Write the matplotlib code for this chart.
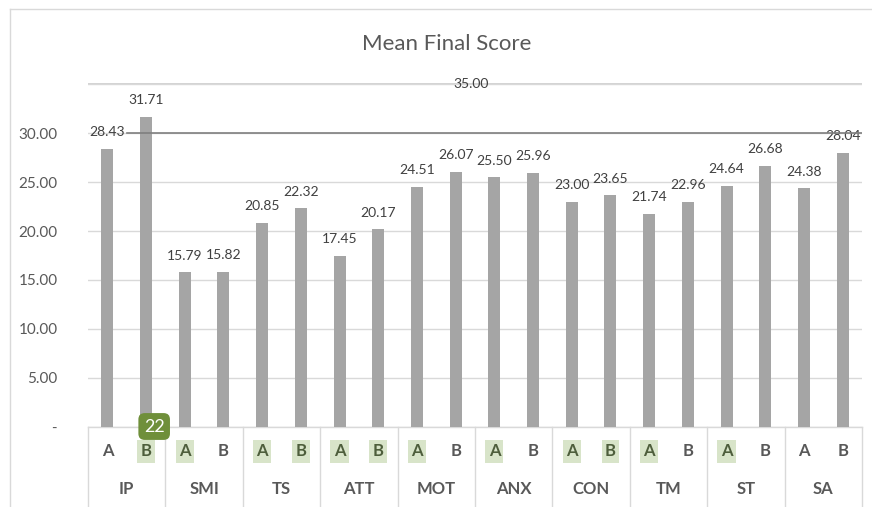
import matplotlib.pyplot as plt
from matplotlib.lines import Line2D
import matplotlib.transforms as mtransforms

#---- data ----#
groups = ['IP', 'SMI', 'TS', 'ATT', 'MOT', 'ANX', 'CON', 'TM', 'ST', 'SA']
scores_a = [28.43, 15.79, 20.85, 17.45, 24.51, 25.50, 23.00, 21.74, 24.64, 24.38]
scores_b = [31.71, 15.82, 22.32, 20.17, 26.07, 25.96, 23.65, 22.96, 26.68, 28.04]
# which A/B labels carry the green highlight
mark_a = [False, True, True, True, True, True, True, True, True, False]
mark_b = [True, False, True, True, False, False, True, False, False, False]
yticks = [0, 5, 10, 15, 20, 25, 30, 35]
ytick_labels = [' -', '5.00', '10.00', '15.00', '20.00', '25.00', '30.00', '']

#---- style ----#
plt.rcParams['font.family'] = ['Lato', 'DejaVu Sans']
bar_col = '#A5A5A5'
grid_col = '#D9D9D9'
txt_col = '#595959'
lab_col = '#404040'
hl_col = '#D8E4C9'
hl_txt = '#4E5E3C'

ytop = 35.4
px_per_unit = 342 / 35.0

fig = plt.figure(figsize=(8.72, 5.07), dpi=100)
ax = fig.add_axes([88/872, 80.5/507, 774/872, px_per_unit*ytop/507])

xa = [2*i + 0.5 for i in range(len(groups))]
xb = [2*i + 1.5 for i in range(len(groups))]
ax.bar(xa, scores_a, width=0.31, color=bar_col, zorder=2)
ax.bar(xb, scores_b, width=0.31, color=bar_col, zorder=2)

for x, v in zip(xa + xb, scores_a + scores_b):
    ax.annotate('%.2f' % v, (x, v), xytext=(0, 12), textcoords='offset points',
                ha='center', va='center', fontsize=10, color=lab_col, zorder=4)

ax.set_xlim(0, 20)
ax.set_ylim(0, ytop)
ax.set_yticks(yticks)
ax.set_yticklabels(ytick_labels, fontsize=11, color=txt_col)
ax.tick_params(axis='y', length=0, pad=22)
ax.set_xticks([])
ax.grid(axis='y', color=grid_col, lw=1, zorder=0)
for s in ax.spines.values():
    s.set_visible(False)
ax.axhline(0, color=grid_col, lw=1, zorder=1, clip_on=False)
ax.plot([0, 20], [35, 35], color='#CCCCCC', lw=1.2, zorder=1)

# stray label on the top gridline and dark line at 30
ax.text(9.9, 35, '35.00', ha='center', va='center', fontsize=10, color=lab_col, zorder=3)
ax.plot([1, 20], [30, 30], color='#7F7F7F', lw=1.2, zorder=5)

#---- category axis boxes ----#
trans = mtransforms.blended_transform_factory(ax.transData, ax.transAxes)
ybox = -80 / (px_per_unit*ytop)
for k in range(len(groups) + 1):
    ax.add_line(Line2D([2*k, 2*k], [0, ybox], color=grid_col, lw=1,
                       transform=trans, clip_on=False))
y_ab = -25 / (px_per_unit*ytop)
y_grp = -63 / (px_per_unit*ytop)
for i, g in enumerate(groups):
    ax.text(2*i + 1, y_grp, g, transform=trans, ha='center', va='center',
            fontsize=12, fontweight='bold', color=txt_col)
    for x, lab, hl in [(xa[i], 'A', mark_a[i]), (xb[i], 'B', mark_b[i])]:
        if hl:
            ax.text(x, y_ab, lab, transform=trans, ha='center', va='center',
                    fontsize=12, fontweight='bold', color=hl_txt,
                    bbox=dict(boxstyle='square,pad=0.2', fc=hl_col, ec='none'))
        else:
            ax.text(x, y_ab, lab, transform=trans, ha='center', va='center',
                    fontsize=12, fontweight='bold', color=txt_col)

# green badge
ax.text(1.71, 0.0, '22', transform=trans, ha='center', va='center',
        fontsize=13, color='white', zorder=6,
        bbox=dict(boxstyle='round,pad=0.3,rounding_size=0.35', fc='#6F8F3A', ec='none'))

fig.suptitle('Mean Final Score', y=1 - 44/507, va='center', x=447/872,
             fontsize=16, color=txt_col)

# chart frame (cut at right and bottom)
fig.add_artist(Line2D([10/872, 10/872], [0, 1 - 9/507], color='#D9D9D9', lw=1))
fig.add_artist(Line2D([10/872, 1], [1 - 9/507, 1 - 9/507], color='#D9D9D9', lw=1))

plt.savefig('out.png', dpi=100, facecolor='white')
